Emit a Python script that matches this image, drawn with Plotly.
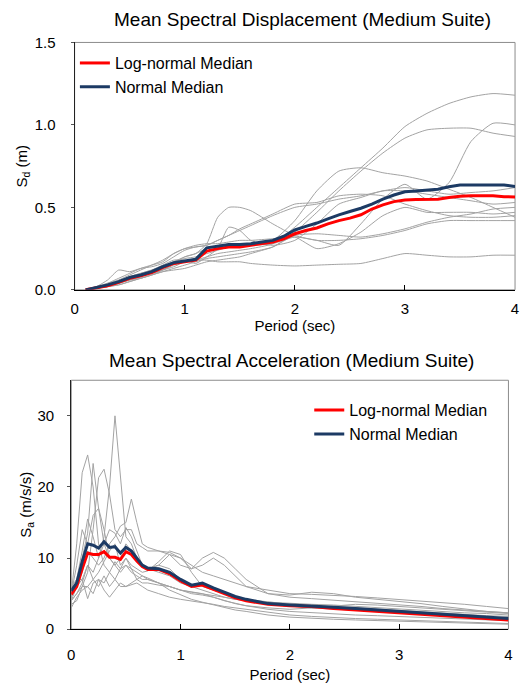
import plotly.graph_objects as go

# ---------------- Spectral displacement (top) ----------------
sd_period = [0.1, 0.2, 0.3, 0.4, 0.5, 0.6, 0.7, 0.8, 0.9, 1.0, 1.1, 1.2, 1.3, 1.4, 1.5, 1.6, 1.7, 1.8, 1.9, 2.0,
             2.1, 2.2, 2.3, 2.4, 2.5, 2.6, 2.7, 2.8, 2.9, 3.0, 3.1, 3.2, 3.3, 3.4, 3.5, 3.6, 3.7, 3.8, 3.9, 4.0]
sd_normal = [0.0, 0.015, 0.03, 0.05, 0.075, 0.09, 0.11, 0.14, 0.165, 0.175, 0.185, 0.255, 0.265, 0.275, 0.275, 0.28,
             0.29, 0.30, 0.325, 0.363, 0.385, 0.405, 0.43, 0.455, 0.475, 0.495, 0.52, 0.55, 0.575, 0.595,
             0.60, 0.605, 0.61, 0.625, 0.635, 0.635, 0.635, 0.635, 0.635, 0.627]
sd_lognormal = [0.0, 0.012, 0.025, 0.045, 0.07, 0.085, 0.105, 0.135, 0.16, 0.17, 0.18, 0.235, 0.25, 0.26, 0.26, 0.27,
                0.28, 0.29, 0.31, 0.34, 0.36, 0.375, 0.40, 0.42, 0.435, 0.455, 0.49, 0.515, 0.535, 0.545,
                0.548, 0.548, 0.55, 0.56, 0.568, 0.57, 0.57, 0.57, 0.565, 0.563]

sd_rec_period = [0.1, 0.2, 0.3, 0.4, 0.5, 0.6, 0.7, 0.8, 0.9, 1.0, 1.1, 1.2, 1.3, 1.4, 1.5, 1.6, 1.8, 2.0,
                 2.2, 2.4, 2.6, 2.8, 3.0, 3.2, 3.4, 3.6, 3.8, 4.0]
sd_rec1 = [0, 0.01, 0.02, 0.04, 0.06, 0.08, 0.1, 0.12, 0.15, 0.17, 0.18, 0.2, 0.22, 0.23, 0.24, 0.25, 0.28, 0.38,
           0.5, 0.62, 0.74, 0.86, 0.99, 1.07, 1.13, 1.17, 1.19, 1.18]
sd_rec2 = [0, 0.01, 0.02, 0.03, 0.05, 0.07, 0.09, 0.11, 0.13, 0.15, 0.17, 0.19, 0.2, 0.21, 0.22, 0.23, 0.26, 0.35,
           0.47, 0.6, 0.72, 0.83, 0.92, 0.97, 0.98, 0.98, 0.95, 0.93]
sd_rec3 = [0, 0.015, 0.03, 0.05, 0.08, 0.1, 0.12, 0.14, 0.17, 0.19, 0.2, 0.22, 0.24, 0.26, 0.27, 0.27, 0.28, 0.32,
           0.3, 0.27, 0.4, 0.55, 0.64, 0.55, 0.65, 0.9, 1.01, 1.0]
sd_rec4 = [0, 0.01, 0.03, 0.05, 0.07, 0.09, 0.11, 0.14, 0.17, 0.2, 0.22, 0.28, 0.44, 0.5, 0.5, 0.48, 0.4, 0.33,
           0.3, 0.3, 0.31, 0.33, 0.36, 0.4, 0.42, 0.42, 0.42, 0.42]
sd_rec5 = [0, 0.01, 0.02, 0.03, 0.05, 0.07, 0.09, 0.12, 0.16, 0.2, 0.22, 0.25, 0.26, 0.28, 0.28, 0.28, 0.3, 0.42,
           0.6, 0.72, 0.74, 0.71, 0.69, 0.66, 0.61, 0.56, 0.5, 0.44]
sd_rec6 = [0, 0.02, 0.04, 0.06, 0.09, 0.12, 0.15, 0.18, 0.22, 0.25, 0.26, 0.27, 0.3, 0.33, 0.37, 0.4, 0.46, 0.52,
           0.53, 0.57, 0.58, 0.57, 0.52, 0.48, 0.45, 0.44, 0.44, 0.45]
sd_rec7 = [0, 0.01, 0.02, 0.04, 0.06, 0.08, 0.1, 0.12, 0.14, 0.17, 0.18, 0.18, 0.17, 0.17, 0.17, 0.16, 0.15, 0.145,
           0.15, 0.155, 0.16, 0.19, 0.22, 0.21, 0.2, 0.2, 0.21, 0.21]
sd_rec8 = [0, 0.02, 0.06, 0.12, 0.11, 0.13, 0.14, 0.16, 0.2, 0.24, 0.26, 0.27, 0.3, 0.33, 0.36, 0.39, 0.45, 0.5,
           0.52, 0.55, 0.57, 0.6, 0.62, 0.6, 0.58, 0.59, 0.6, 0.62]
sd_rec9 = [0, 0.01, 0.02, 0.04, 0.06, 0.07, 0.09, 0.11, 0.12, 0.13, 0.15, 0.17, 0.18, 0.19, 0.2, 0.22, 0.26, 0.33,
           0.34, 0.33, 0.32, 0.34, 0.37, 0.41, 0.44, 0.46, 0.49, 0.5]
sd_rec10 = [0, 0.015, 0.04, 0.07, 0.1, 0.13, 0.15, 0.17, 0.22, 0.25, 0.27, 0.28, 0.28, 0.29, 0.3, 0.3, 0.31, 0.32,
            0.25, 0.28, 0.35, 0.45, 0.5, 0.47, 0.47, 0.47, 0.46, 0.47]
sd_rec11 = [0, 0.01, 0.03, 0.05, 0.08, 0.1, 0.12, 0.15, 0.18, 0.18, 0.16, 0.2, 0.25, 0.38, 0.36, 0.3, 0.27, 0.3,
            0.4, 0.52, 0.56, 0.6, 0.6, 0.58, 0.56, 0.54, 0.52, 0.53]
sd_records = [sd_rec1, sd_rec2, sd_rec3, sd_rec4, sd_rec5, sd_rec6, sd_rec7, sd_rec8, sd_rec9, sd_rec10, sd_rec11]

# ---------------- Spectral acceleration (bottom) ----------------
sa_period = [0, 0.05, 0.1, 0.15, 0.2, 0.25, 0.3, 0.35, 0.4, 0.45, 0.5, 0.55, 0.6, 0.65, 0.7, 0.8, 0.9, 1.0, 1.1,
             1.2, 1.3, 1.4, 1.5, 1.6, 1.8, 2.0, 2.2, 2.4, 2.6, 2.8, 3.0, 3.2, 3.4, 3.6, 3.8, 4.0]
sa_normal = [5.4, 6.5, 9.5, 12.0, 11.8, 11.4, 12.3, 11.5, 11.6, 10.7, 11.5, 11.0, 10.0, 9.0, 8.6, 8.5, 8.0, 7.0,
             6.2, 6.5, 5.8, 5.2, 4.6, 4.2, 3.6, 3.4, 3.3, 3.1, 2.9, 2.7, 2.5, 2.2, 2.0, 1.9, 1.7, 1.5]
sa_lognormal = [4.9, 6.0, 8.5, 10.7, 10.5, 10.5, 10.9, 10.1, 10.1, 9.8, 10.9, 10.5, 9.6, 8.8, 8.4, 8.4, 7.8, 6.8,
                6.0, 6.2, 5.6, 5.0, 4.4, 4.0, 3.5, 3.3, 3.2, 2.9, 2.7, 2.6, 2.4, 2.1, 1.9, 1.7, 1.5, 1.3]
sa_rec1 = [4.5, 6, 7, 9, 8, 10, 13, 20, 30, 22, 13, 12, 10, 9, 8.5, 8, 7.5, 6.5, 6, 6.5, 5.5, 5, 4.5, 4.2, 3.8,
           3.5, 3.4, 3.2, 3.0, 2.8, 2.6, 2.4, 2.2, 2.0, 1.9, 1.8]
sa_rec2 = [5, 12, 22, 24.5, 20, 12, 9, 8, 7, 8.5, 9, 8.5, 8, 7.5, 7.2, 6.5, 6, 5.5, 5.2, 5, 4.8, 4.5, 4.2, 4, 3.8,
           3.6, 3.5, 3.4, 3.2, 3.0, 2.8, 2.6, 2.4, 2.3, 2.2, 2.0]
sa_rec3 = [4, 6, 10, 13.5, 23.3, 17, 12, 10, 9, 10, 12, 11, 10, 9, 8.5, 9, 10.5, 10, 8.5, 10, 10.8, 10, 8.5, 7, 5,
           4.5, 4.3, 4.1, 3.9, 3.7, 3.5, 3.2, 2.9, 2.7, 2.5, 2.3]
sa_rec4 = [4, 5, 6, 8, 14, 21.3, 22.5, 19, 14, 13, 14, 14, 12, 11.5, 11, 11, 10.8, 10, 9, 8, 7.5, 7, 6.5, 6, 5.5,
           5.0, 4.9, 4.8, 4.6, 4.4, 4.2, 4.0, 3.8, 3.5, 3.2, 2.9]
sa_rec5 = [5, 6, 8, 11, 10, 9, 10, 12, 13, 14.5, 15, 18.3, 15, 12, 11.5, 11, 10.5, 9, 8.5, 9, 10, 9, 7.5, 6, 5,
           4.8, 5.2, 5.0, 4.5, 4.2, 4.0, 3.6, 3.2, 2.8, 2.5, 2.3]
sa_rec6 = [4.5, 7, 11, 15.5, 13, 10, 12, 14, 13.5, 12, 14.3, 13, 11, 9, 8.5, 9, 8.5, 7, 6, 5.5, 5, 4.5, 4.2, 4.0,
           3.6, 3.3, 3.0, 2.8, 2.6, 2.5, 2.4, 2.2, 2.0, 1.8, 1.6, 1.5]
sa_rec7 = [3, 4.5, 5.5, 6, 5, 7, 5.5, 4.5, 5.5, 6.5, 6, 6.2, 6.5, 6.0, 5.5, 5, 4.5, 4.2, 4, 3.8, 3.5, 3.2, 3.0, 2.8,
           2.4, 2.0, 1.8, 1.6, 1.5, 1.4, 1.3, 1.2, 1.1, 1.0, 0.9, 0.8]
sa_rec8 = [4, 5, 6.5, 9, 7, 8, 9.5, 11, 12, 9, 10, 8.5, 7, 6.5, 6.5, 6.2, 6, 5.5, 5.2, 5, 4.5, 4.0, 3.6, 3.3, 2.8,
           2.5, 2.3, 2.1, 2.0, 1.9, 1.8, 1.7, 1.5, 1.4, 1.3, 1.2]
sa_rec9 = [6, 7, 7, 4.3, 6.5, 7, 6.5, 8, 9.5, 8.5, 10, 9, 8.5, 8, 8.2, 9.5, 11, 10.5, 8, 6, 5.5, 5, 4.5, 4.0, 3.5,
           3.2, 3.0, 2.9, 2.7, 2.5, 2.3, 2.1, 1.9, 1.7, 1.5, 1.4]
sa_rec10 = [5, 9, 14, 12, 16, 17, 14, 10, 9, 8, 9, 8, 7.5, 7, 7, 6.5, 6, 5.5, 5, 4.8, 4.5, 4.0, 3.6, 3.3, 3.0, 2.8,
            3.0, 3.2, 3.5, 3.4, 3.2, 3.0, 2.8, 2.6, 2.4, 2.2]
sa_rec11 = [3.5, 4, 6, 6, 7, 6, 7.5, 6, 7, 6, 6, 6.5, 7, 7.5, 7, 6.5, 5.5, 4.8, 4.2, 3.8, 3.4, 3.0, 2.7, 2.5, 2.0,
            1.7, 1.5, 1.4, 1.3, 1.2, 1.1, 1.0, 0.9, 0.8, 0.75, 0.7]
sa_records = [sa_rec1, sa_rec2, sa_rec3, sa_rec4, sa_rec5, sa_rec6, sa_rec7, sa_rec8, sa_rec9, sa_rec10, sa_rec11]

title_top = "Mean Spectral Displacement (Medium Suite)"
title_bottom = "Mean Spectral Acceleration (Medium Suite)"

W, H = 522, 685
FONT = "Arial, Liberation Sans, sans-serif"
GRAY = "#a3a3a3"
RED = "#ff0000"
BLUE = "#1c3a64"

fig = go.Figure()

for rec in sd_records:
    fig.add_trace(go.Scatter(x=sd_rec_period, y=rec, mode="lines", xaxis="x", yaxis="y",
                             line=dict(color=GRAY, width=1, shape="spline", smoothing=0.6),
                             showlegend=False, hoverinfo="skip"))
fig.add_trace(go.Scatter(x=sd_period, y=sd_lognormal, mode="lines", name="Log-normal Median",
                         xaxis="x", yaxis="y", line=dict(color=RED, width=3), legend="legend"))
fig.add_trace(go.Scatter(x=sd_period, y=sd_normal, mode="lines", name="Normal Median",
                         xaxis="x", yaxis="y", line=dict(color=BLUE, width=3), legend="legend"))

for rec in sa_records:
    fig.add_trace(go.Scatter(x=sa_period, y=rec, mode="lines", xaxis="x2", yaxis="y2",
                             line=dict(color=GRAY, width=1), showlegend=False, hoverinfo="skip"))
fig.add_trace(go.Scatter(x=sa_period, y=sa_lognormal, mode="lines", name="Log-normal Median",
                         xaxis="x2", yaxis="y2", line=dict(color=RED, width=3), legend="legend2"))
fig.add_trace(go.Scatter(x=sa_period, y=sa_normal, mode="lines", name="Normal Median",
                         xaxis="x2", yaxis="y2", line=dict(color=BLUE, width=3), legend="legend2"))

def px_x(p):
    return p / W

def px_y(p):
    return 1 - p / H

top_x = [px_x(71.7), px_x(519)]
top_y = [px_y(288), px_y(34.3)]
bot_x = [px_x(68.3), px_x(512.3)]
bot_y = [px_y(636), px_y(380.7)]

tickfont = dict(family=FONT, size=15, color="#000000")
titlefont = dict(family=FONT, size=15, color="#000000")

xcommon = dict(range=[0, 4], tickvals=[0, 1, 2, 3, 4], ticks="inside", ticklen=5, tickcolor="#000000",
               showline=True, linecolor="#000000", linewidth=1.2, showgrid=False, zeroline=False,
               tickfont=tickfont, fixedrange=True)
ycommon = dict(ticks="outside", ticklen=3, tickcolor="#555555", showline=True, linecolor="#222222",
               linewidth=1.2, showgrid=False, zeroline=False, tickfont=tickfont, fixedrange=True)

fig.update_layout(
    width=W, height=H,
    margin=dict(l=0, r=0, t=0, b=0),
    paper_bgcolor="white", plot_bgcolor="white",
    font=dict(family=FONT, color="#000000"),
    xaxis=dict(domain=top_x, anchor="y", ticklabelstandoff=5,
               title=dict(text="Period (sec)", font=titlefont, standoff=0), **xcommon),
    yaxis=dict(domain=top_y, anchor="x", range=[0, 1.5], tickvals=[0, 0.5, 1.0, 1.5], tickformat=".1f",
               ticklabelstandoff=12,
               title=dict(text="S<sub>d</sub> (m)", font=titlefont, standoff=3), **ycommon),
    xaxis2=dict(domain=bot_x, anchor="y2", ticklabelstandoff=12,
                title=dict(text="Period (sec)", font=titlefont, standoff=7), **xcommon),
    yaxis2=dict(domain=bot_y, anchor="x2", range=[0, 35], tickvals=[0, 10, 20, 30],
                ticklabelstandoff=10,
                title=dict(text="S<sub>a</sub> (m/s/s)", font=titlefont, standoff=2), **ycommon),
    legend=dict(x=px_x(72), y=px_y(38), xanchor="left", yanchor="top", bgcolor="rgba(0,0,0,0)",
                font=dict(family=FONT, size=16, color="#000000"), itemwidth=30, tracegroupgap=0),
    legend2=dict(x=px_x(310), y=px_y(394), xanchor="left", yanchor="top", bgcolor="rgba(0,0,0,0)",
                 font=dict(family=FONT, size=16, color="#000000"), itemwidth=30, tracegroupgap=0),
    shapes=[
        dict(type="rect", xref="x domain", yref="y domain", x0=0, x1=1, y0=0, y1=1,
             line=dict(color="#8c8c8c", width=1), layer="below"),
        dict(type="rect", xref="x2 domain", yref="y2 domain", x0=0, x1=1, y0=0, y1=1,
             line=dict(color="#8c8c8c", width=1), layer="below"),
    ],
    annotations=[
        dict(text=title_top, xref="paper", yref="paper", x=px_x(303), y=px_y(11), xanchor="center",
             yanchor="middle", showarrow=False, font=dict(family=FONT, size=19, color="#000000")),
        dict(text=title_bottom, xref="paper", yref="paper", x=px_x(292), y=px_y(360), xanchor="center",
             yanchor="middle", showarrow=False, font=dict(family=FONT, size=19, color="#000000")),
    ],
)

fig.write_html("out.html")
